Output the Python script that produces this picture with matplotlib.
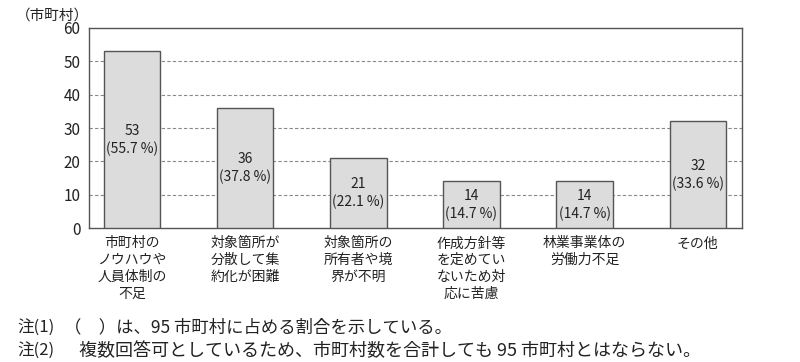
import matplotlib
matplotlib.use("Agg")
import matplotlib.pyplot as plt

plt.rcParams['font.family'] = ['Noto Sans CJK JP', 'DejaVu Sans']

categories = ["市町村の\nノウハウや\n人員体制の\n不足",
              "対象箇所が\n分散して集\n約化が困難",
              "対象箇所の\n所有者や境\n界が不明",
              "作成方針等\nを定めてい\nないため対\n応に苦慮",
              "林業事業体の\n労働力不足",
              "その他"]
values = [53, 36, 21, 14, 14, 32]
percents = ["55.7", "37.8", "22.1", "14.7", "14.7", "33.6"]
yticks = [0, 10, 20, 30, 40, 50, 60]

fig = plt.figure(figsize=(8, 3.62), dpi=100)
ax = fig.add_axes([0.111, 0.370, 0.8165, 0.5527])
x = list(range(len(values)))
ax.bar(x, values, width=0.5, color='#dcdcdc', edgecolor='#555555', linewidth=1.0, zorder=3)
for xi, v, p in zip(x, values, percents):
    ax.text(xi, v / 2, f"{v}\n({p} %)", ha='center', va='center', fontsize=10,
            color='#222222', linespacing=1.3, zorder=4)
ax.set_xlim(-0.38, 5.39)
ax.set_ylim(0, 60)
ax.set_yticks(yticks)
ax.set_yticklabels([str(t) for t in yticks], fontsize=11, color='#222222')
ax.tick_params(axis='y', length=0, pad=6)
ax.set_xticks(x)
ax.set_xticklabels(categories, fontsize=10, color='#222222', linespacing=1.25, va='top')
ax.tick_params(axis='x', length=0, pad=6)
for t in yticks[1:-1]:
    ax.axhline(t, color='#888888', linestyle=(0, (3, 2)), linewidth=0.8, zorder=1)
for s in ax.spines.values():
    s.set_color('#555555')
    s.set_linewidth(1.0)

fig.text(0.02, 0.975, "（市町村）", fontsize=10.5, ha='left', va='top', color='#222222')
fig.text(0.022, 0.097, "注(1)", fontsize=12, ha='left', va='center', color='#222222')
fig.text(0.08, 0.097, "（　）は、95 市町村に占める割合を示している。", fontsize=12.5, ha='left', va='center', color='#222222')
fig.text(0.022, 0.031, "注(2)", fontsize=12, ha='left', va='center', color='#222222')
fig.text(0.099, 0.031, "複数回答可としているため、市町村数を合計しても 95 市町村とはならない。", fontsize=13, ha='left', va='center', color='#222222')

fig.savefig("out.png", dpi=100)
